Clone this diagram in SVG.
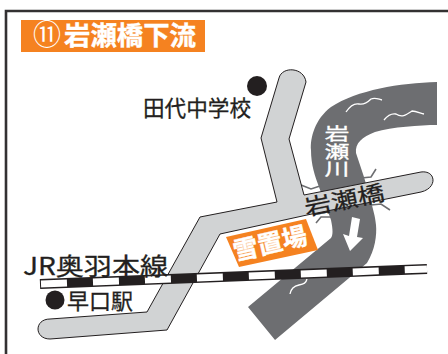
<svg xmlns="http://www.w3.org/2000/svg" width="448" height="354" viewBox="0 0 448 354">
<style>
text{font-family:"Noto Sans CJK JP","Noto Sans",sans-serif}
.k{fill:#231f20;stroke:#231f20;stroke-width:.3}
.w{fill:#fff}
.t{stroke:#fff;stroke-width:.4}
.b{font-weight:700}
.sq{fill:none;stroke:#fff;stroke-width:1.3}
.tick{fill:none;stroke:#6d6e71;stroke-width:1.6}
</style>
<rect width="448" height="354" fill="#fff"/>
<path id="frame" d="M6,354V11H448" fill="none" stroke="#333132" stroke-width="2.6"/>
<g id="title">
<rect x="21" y="20" width="184" height="32" fill="#f58220"/>
<text class="w" x="33" y="45" font-size="28">⑪</text>
<text class="w b t" x="64" y="45" font-size="26.4">岩瀬橋下流</text>
</g>
<g id="river">
<path d="M437,82C400,83 357,90 331,107C315,119 310,138 311,150C311,165 315,176 319,187L331,220C333,230 333,235 331,238L248,307L275,340L367,263C375,250 377,235 376,225C375,215 373,210 372,205L364,177L356,153C355,143 362,137 375,132C392,127 420,125 437,125Z" fill="#6d6e71"/>
<path class="sq" d="M346,112C350,106 354,103 359,104C364,105 367,103 371,99C375,97 378,99 382,100"/>
<path class="sq" d="M384,120C388,115 391,113 396,114C402,118 406,115 412,111C416,111 420,113 424,114"/>
<path class="sq" d="M290,294C291,288 294,286 299,285C304,284 306,283 307,279"/>
<path class="tick" d="M301,185L311,189L320,186"/>
<path class="tick" d="M376,169L371,177L361,178"/>
<path class="tick" d="M390,210L381,204L371,205"/>
<path class="tick" d="M316,223L321,217L331,217"/>
<text class="w t" transform="translate(337,125) scale(1,.7)" writing-mode="vertical-rl" font-size="25">岩瀬川</text>
<polygon fill="#fff" points="352,217 360,219 357,237 363,238 350,251 343,234 349,236"/>
</g>
<g id="road">
<path d="M279,78C282,66 304,67 306,82L289,139L304,195L421,172C436,170 438,188 421,192L307,215L220,234L167,330L50,339C34,339 34,319 50,319L147,312L200,217L277,202L261,138Z" fill="#d1d3d4" stroke="#231f20" stroke-width="1"/>
</g>
<g id="snow-yard">
<polygon points="226,237 306,219 318,250 239,267" fill="#f58220"/>
<text class="w b t" transform="translate(272,252) rotate(-13)" text-anchor="middle" font-size="25">雪置場</text>
</g>
<g id="connectors">
<line x1="40" y1="284" x2="427" y2="269" stroke="#231f20" stroke-width="10"/>
<line x1="41" y1="284" x2="427" y2="269" stroke="#fff" stroke-width="7" stroke-dasharray="26 26"/>
</g>
<g id="school">
<circle cx="257" cy="86" r="10" fill="#231f20"/>
<text class="k" x="143" y="116" font-size="21.6">田代中学校</text>
</g>
<g id="station">
<circle cx="55" cy="300" r="9.5" fill="#231f20"/>
<text class="k" x="67" y="309" font-size="22">早口駅</text>
</g>
<g id="line-label">
<text class="k" x="23" y="275" font-size="24" textLength="145" lengthAdjust="spacingAndGlyphs">JR奥羽本線</text>
</g>
<g id="bridge-label">
<text class="k" transform="translate(346,208) rotate(-11.5) scale(1,.82)" text-anchor="middle" font-size="27">岩瀬橋</text>
</g>
</svg>
